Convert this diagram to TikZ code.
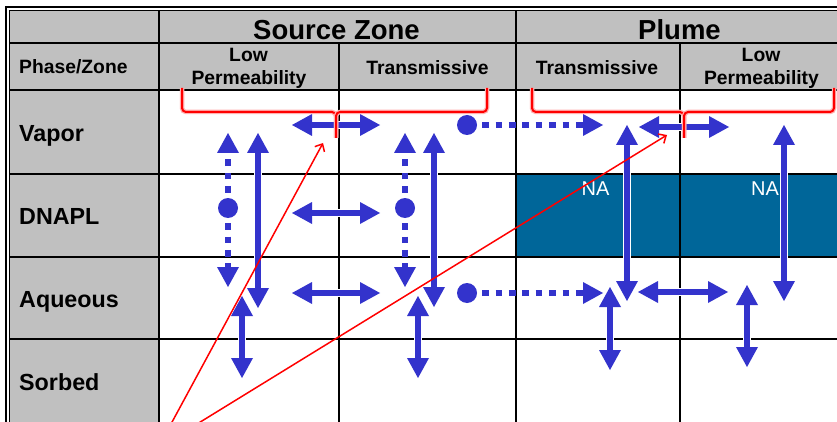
\documentclass[tikz,border=0pt]{standalone}
\usepackage{fontspec}
\setmainfont{Liberation Sans}
\usetikzlibrary{arrows.meta}
\definecolor{arrowblue}{RGB}{51,51,204}
\definecolor{nablue}{RGB}{0,102,153}
\definecolor{hdrgray}{RGB}{192,192,192}
\tikzset{
  gridline/.style={line width=2pt, black},
  bigtxt/.style={inner sep=0pt, anchor=base, font=\fontsize{27.5}{30}\selectfont\bfseries},
  subtxt/.style={inner sep=0pt, anchor=base, font=\fontsize{19.3}{21}\selectfont\bfseries},
  rowtxt/.style={inner sep=0pt, anchor=base west, font=\fontsize{23.3}{25}\selectfont\bfseries},
  natxt/.style={inner sep=0pt, anchor=base, text=white, font=\fontsize{20}{22}\selectfont},
  dblarrow/.style={line width=6.5pt, draw=arrowblue,
    {Triangle[width=22pt,length=20pt,line width=0pt]}-{Triangle[width=22pt,length=20pt,line width=0pt]},
    preaction={draw=white, line width=8.5pt,
      {Triangle[width=25pt,length=22pt,line width=0pt]}-{Triangle[width=25pt,length=22pt,line width=0pt]}}},
  dotarrow/.style={line width=6pt, draw=arrowblue, dash pattern=on 6.7pt off 6.7pt, dash phase=11.7pt,
    -{Triangle[width=22pt,length=20pt,line width=0pt]}},
  blob/.style={fill=arrowblue},
  callout/.style={draw=red, line width=1.5pt, -{Straight Barb[length=6pt,width=11pt,line width=1.5pt]}},
  brace/.style={draw=red, line width=2pt, rounded corners=4pt, line join=round,
    preaction={draw=red!30, line width=4.5pt}}
}
\begin{document}
\begin{tikzpicture}[x=1pt,y=-1pt]
\useasboundingbox (0,0) rectangle (837,422);
\clip (0,0) rectangle (837,422);
\fill[white] (0,0) rectangle (837,422);
% fills
\fill[hdrgray] (9.5,10.5) rectangle (845,90);
\fill[hdrgray] (9.5,90) rectangle (159,430);
\fill[nablue] (516,174) rectangle (845,257);
% frame
\draw[line width=2pt] (6,430) -- (6,7.5) -- (845,7.5);
\draw[line width=1.2pt] (9.5,430) -- (9.5,10.5) -- (845,10.5);
% grid
\foreach \yy in {43,90,174,257,339} \draw[gridline] (9.5,\yy) -- (845,\yy);
\foreach \xx in {159,516} \draw[gridline] (\xx,10.5) -- (\xx,430);
\foreach \xx in {339,680} \draw[gridline] (\xx,43) -- (\xx,430);
% texts
\node[bigtxt] (sz) at (336.5,39.3) {Source Zone};
\node[bigtxt] (pl) at (679.5,39.3) {Plume};
\node[subtxt] (low1) at (248.5,61.7) {Low};
\node[subtxt] (perm1) at (249,84.5) {Permeability};
\node[subtxt] (tr1) at (427.5,75) {Transmissive};
\node[subtxt] (tr2) at (597,75) {Transmissive};
\node[subtxt] (low2) at (761,61.7) {Low};
\node[subtxt] (perm2) at (761.5,84.5) {Permeability};
\node[subtxt, anchor=base west] (pz) at (19,73.3) {Phase/Zone};
\node[rowtxt] (vap) at (19,141.7) {Vapor};
\node[rowtxt] (dna) at (19,224.3) {DNAPL};
\node[rowtxt] (aq) at (19,307.3) {Aqueous};
\node[rowtxt] (sor) at (19,390.7) {Sorbed};
\node[natxt] (na1) at (595.5,195) {NA};
\node[natxt] (na2) at (765,195) {NA};
% coordinates
\coordinate (d1) at (228,208); \coordinate (d1u) at (228,133); \coordinate (d1d) at (228,287);
\coordinate (a2u) at (258,133); \coordinate (a2d) at (258,308);
\coordinate (a3l) at (292,125); \coordinate (a3r) at (380,125);
\coordinate (a4l) at (292,213); \coordinate (a4r) at (380,213);
\coordinate (a5l) at (292,293); \coordinate (a5r) at (380,293);
\coordinate (a6u) at (242,296); \coordinate (a6d) at (242,378);
\coordinate (d2) at (405,208); \coordinate (d2u) at (405,133); \coordinate (d2d) at (405,287);
\coordinate (a8u) at (434,133); \coordinate (a8d) at (434,307);
\coordinate (a9u) at (418,296); \coordinate (a9d) at (418,378);
\coordinate (d3) at (467,125); \coordinate (d3r) at (603,125);
\coordinate (d4) at (467,293); \coordinate (d4r) at (603,293);
\coordinate (a12u) at (627,125); \coordinate (a12d) at (627,301);
\coordinate (a13l) at (639,127); \coordinate (a13r) at (729,127);
\coordinate (a14l) at (638,292); \coordinate (a14r) at (728,292);
\coordinate (a15u) at (610,287); \coordinate (a15d) at (610,370);
\coordinate (a16u) at (784,125); \coordinate (a16d) at (784,301);
\coordinate (a17u) at (747,285); \coordinate (a17d) at (747,367);
% arrows
\draw[dblarrow] (a2u) -- (a2d);
\draw[dblarrow] (a3l) -- (a3r);
\draw[dblarrow] (a4l) -- (a4r);
\draw[dblarrow] (a5l) -- (a5r);
\draw[dblarrow] (a8u) -- (a8d);
\draw[dblarrow] (a12u) -- (a12d);
\draw[dblarrow] (a13l) -- (a13r);
\draw[dblarrow] (a14l) -- (a14r);
\draw[dblarrow] (a15u) -- (a15d);
\draw[dblarrow] (a16u) -- (a16d);
\draw[dblarrow] (a17u) -- (a17d);
\draw[dotarrow] (d1) -- (d1u); \draw[dotarrow] (d1) -- (d1d);
\draw[dotarrow] (d2) -- (d2u); \draw[dotarrow] (d2) -- (d2d);
\draw[dotarrow] (d3) -- (d3r);
\draw[dotarrow] (d4) -- (d4r);
\fill[blob] (d1) circle[radius=10pt];
\fill[blob] (d2) circle[radius=10pt];
\fill[blob] (d3) circle[radius=10pt];
\fill[blob] (d4) circle[radius=10pt];
% callouts
\coordinate (src) at (158,448);
\coordinate (t1) at (323,143);
\coordinate (t2) at (667,135);
\draw[callout] (src) -- (t1);
\draw[callout] (src) -- (t2);
\draw[dblarrow] (a6u) -- (a6d);
\draw[dblarrow] (a9u) -- (a9d);
% braces
\coordinate (b1l) at (182,88); \coordinate (b1m) at (336,138); \coordinate (b1r) at (487,88);
\coordinate (b2l) at (532,88); \coordinate (b2m) at (684,138); \coordinate (b2r) at (834,88);
\draw[brace] (b1l) |- (336,112) -- (b1m);
\draw[brace] (b1r) |- (336,112) -- (b1m);
\draw[brace] (b2l) |- (684,112) -- (b2m);
\draw[brace] (b2r) |- (684,112) -- (b2m);
\end{tikzpicture}
\end{document}
